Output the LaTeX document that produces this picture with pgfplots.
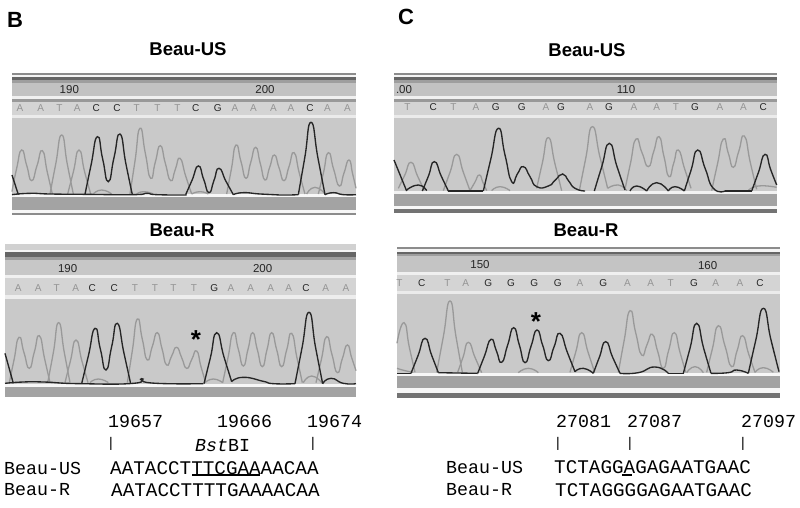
\documentclass[border=0pt]{standalone}
\usepackage{fontspec}
\setmainfont{Liberation Sans}
\newfontfamily\cour{Liberation Mono}
\usepackage{pgfplots}
\pgfplotsset{compat=1.18}
% panels use crop coordinates, 3 units per pixel
\pgfplotsset{
  panel/.style={scale only axis, hide axis, y dir=reverse, anchor=south west,
    enlargelimits=false, clip=true},
  pB/.style={panel, width=#1pt, xmin=0, xmax=#1*3},
  lt/.style={color=black!40, line width=1.3pt, smooth, tension=1, no marks},
  dk/.style={color=black!85, line width=1.35pt, smooth, tension=1, no marks},
  letters/.style={draw=none, no marks, point meta=explicit symbolic, nodes near coords,
    nodes near coords style={anchor=center, inner sep=0pt, font=\fontsize{10}{10}\selectfont, text=#1}},
  nums/.style={draw=none, no marks, point meta=explicit symbolic, nodes near coords,
    nodes near coords style={anchor=center, inner sep=0pt, font=\fontsize{11.5}{11.5}\selectfont, text=black!85}},
}
\newcommand{\band}[5]{\addplot[fill=#5, draw=none, no marks] coordinates {(#1,#3)(#2,#3)(#2,#4)(#1,#4)} -- cycle;}
\begin{document}
\begin{tikzpicture}[x=1pt,y=1pt]
\useasboundingbox (0,0) rectangle (800,508);

% panel B, Beau-US
\begin{axis}[pB=370, height=160pt, at={(0pt,288pt)}, ymin=0, ymax=480]
\band{36}{1068}{38}{44}{black!45}
\band{36}{1068}{44}{52}{black!4}
\band{36}{1068}{52}{60}{black!60}
\band{36}{1068}{60}{68}{black!38}
\band{36}{1068}{68}{108}{black!24}
\band{36}{1068}{108}{118}{black!6}
\band{36}{1068}{118}{125}{black!40}
\band{36}{1068}{125}{165}{black!17}
\band{36}{1068}{165}{175}{black!8}
\band{36}{1068}{175}{403}{black!21}
\band{36}{1068}{403}{412}{black!3}
\band{36}{1068}{412}{450}{black!36}
\band{36}{1068}{450}{458}{black!3}
\band{36}{1068}{458}{464}{black!45}
\addplot[nums] coordinates {(208,90)[190] (795,90)[200]};
\addplot[letters=black!42] coordinates {(60,143)[A] (122,143)[A] (178,143)[T] (232,143)[A] (410,143)[T] (472,143)[T] (532,143)[T] (705,143)[A] (760,143)[A] (820,143)[A] (873,143)[A] (982,143)[A] (1042,143)[A]};
\addplot[letters=black!85] coordinates {(289,143)[C] (351,143)[C] (587,143)[C] (653,143)[G] (930,143)[C]};
% A, T traces
\addplot[lt] coordinates {(36,395)(50,325)(65,270)(80,316)(95,362)(111,317)(127,272)(142,337)(157,402)};
\addplot[lt] coordinates {(150,402)(167,313)(185,225)(202,313)(220,402)};
\addplot[lt] coordinates {(203,402)(220,336)(237,270)(254,336)(272,402)};
\addplot[lt] coordinates {(390,402)(405,303)(420,205)(436,280)(452,355)(466,306)(481,257)(496,310)(512,362)(526,328)(540,295)(557,348)(575,402)};
\addplot[lt] coordinates {(680,402)(694,328)(708,255)(723,305)(738,355)(752,308)(767,262)(781,311)(795,360)(809,322)(823,285)(837,323)(852,362)(867,320)(882,278)(898,340)(915,402)};
\addplot[lt] coordinates {(955,402)(970,340)(985,278)(1001,328)(1018,378)(1032,339)(1047,300)(1058,342)(1068,385)};
\addplot[lt] coordinates {(280,402)(305,390)(335,402)};
\addplot[lt] coordinates {(410,402)(432,395)(460,402)};
\addplot[lt] coordinates {(575,402)(600,395)(625,402)};
\addplot[lt] coordinates {(920,402)(945,382)(975,402)};
% C, G traces
\addplot[dk] coordinates {(36,345)(55,404)};
\addplot[dk] coordinates {(255,403)(273,316)(292,230)(308,297)(325,365)(342,293)(360,222)(378,313)(397,404)};
\addplot[dk] coordinates {(557,404)(576,361)(595,318)(611,358)(627,398)(642,361)(657,325)(678,364)(700,404)};
\addplot[dk] coordinates {(895,404)(914,295)(933,187)(954,295)(975,404)};
\addplot[dk] coordinates {(36,404)(90,400)(150,402)(250,403)(400,404)(440,400)(470,404)(560,405)};
\addplot[dk] coordinates {(700,404)(730,398)(780,402)(840,405)(895,404)};
\addplot[dk] coordinates {(975,404)(1000,398)(1030,404)(1068,404)};
\end{axis}

% panel B, Beau-R
\begin{axis}[pB=370, height=170pt, at={(0pt,98pt)}, ymin=0, ymax=510]
\band{15}{1068}{12}{30}{black!18}
\band{15}{1068}{30}{37}{black!4}
\band{15}{1068}{37}{50}{black!60}
\band{15}{1068}{50}{60}{black!38}
\band{15}{1068}{60}{105}{black!22}
\band{15}{1068}{105}{115}{black!6}
\band{15}{1068}{115}{165}{black!17}
\band{15}{1068}{165}{176}{black!7}
\band{15}{1068}{176}{432}{black!21}
\band{15}{1068}{432}{440}{black!3}
\band{15}{1068}{440}{470}{black!36}
\addplot[nums] coordinates {(203,85)[190] (788,85)[200]};
\addplot[letters=black!42] coordinates {(55,143)[A] (115,143)[A] (170,143)[T] (227,143)[A] (405,143)[T] (465,143)[T] (520,143)[T] (582,143)[T] (693,143)[A] (752,143)[A] (812,143)[A] (866,143)[A] (977,143)[A] (1038,143)[A]};
\addplot[letters=black!85] coordinates {(277,143)[C] (343,143)[C] (643,143)[G] (918,143)[C]};
\addplot[lt] coordinates {(28,428)(42,360)(57,292)(72,338)(88,385)(103,336)(118,287)(134,357)(150,428)};
\addplot[lt] coordinates {(143,428)(160,338)(176,248)(193,338)(210,428)};
\addplot[lt] coordinates {(195,428)(211,364)(228,300)(246,364)(264,428)};
\addplot[lt] coordinates {(382,428)(397,332)(412,237)(427,298)(442,360)(457,319)(472,278)(486,326)(500,375)(515,348)(530,322)(545,353)(560,385)(575,359)(590,333)(603,380)(617,428)};
\addplot[lt] coordinates {(668,428)(684,353)(700,278)(715,328)(730,378)(744,328)(758,278)(772,329)(787,380)(801,329)(815,278)(830,329)(845,380)(860,330)(875,280)(891,354)(907,428)};
\addplot[lt] coordinates {(948,428)(964,359)(980,290)(996,344)(1012,398)(1027,356)(1042,315)(1055,353)(1068,392)};
\addplot[lt] coordinates {(270,428)(295,417)(325,428)};
\addplot[lt] coordinates {(615,428)(640,417)(668,428)};
\addplot[lt] coordinates {(910,428)(935,408)(965,428)};
\addplot[dk] coordinates {(15,340)(40,430)};
\addplot[dk] coordinates {(245,431)(265,348)(285,265)(301,327)(318,390)(335,320)(352,250)(372,340)(392,431)};
\addplot[dk] coordinates {(612,431)(631,354)(650,278)(672,351)(695,425)};
\addplot[dk] coordinates {(885,431)(906,324)(927,217)(947,324)(968,431)};
\addplot[dk] coordinates {(15,430)(70,426)(130,426)(240,431)(400,430)(425,416)(455,429)(610,431)};
\addplot[dk] coordinates {(695,425)(730,412)(790,424)(820,431)(885,431)};
\addplot[dk] coordinates {(968,431)(993,415)(1030,430)(1068,431)};
\end{axis}

% panel C, Beau-US
\begin{axis}[pB=400, height=160pt, at={(385pt,288pt)}, ymin=0, ymax=480]
\band{27}{1175}{38}{44}{black!45}
\band{27}{1175}{44}{52}{black!4}
\band{27}{1175}{52}{60}{black!60}
\band{27}{1175}{60}{68}{black!38}
\band{27}{1175}{68}{108}{black!24}
\band{27}{1175}{108}{118}{black!6}
\band{27}{1175}{118}{125}{black!40}
\band{27}{1175}{125}{165}{black!17}
\band{27}{1175}{165}{175}{black!8}
\band{27}{1175}{175}{394}{black!21}
\band{27}{1175}{394}{403}{black!5}
\band{27}{1175}{403}{437}{black!36}
\band{27}{1175}{437}{447}{black!3}
\band{27}{1175}{447}{458}{black!55}
\addplot[nums] coordinates {(57,88)[.00] (723,90)[110]};
\addplot[letters=black!42] coordinates {(67,142)[T] (205,142)[T] (273,142)[A] (483,142)[A] (615,142)[A] (747,142)[A] (815,142)[A] (873,142)[T] (1005,142)[A] (1075,142)[A]};
\addplot[letters=black!85] coordinates {(145,142)[C] (332,142)[G] (410,142)[G] (528,142)[G] (672,142)[G] (930,142)[G] (1135,142)[C]};
\addplot[lt] coordinates {(40,385)(59,346)(78,307)(98,349)(118,392)};
\addplot[lt] coordinates {(175,392)(195,337)(215,283)(235,337)(255,392)};
\addplot[lt] coordinates {(255,392)(269,368)(283,345)(294,368)(305,392)};
\addplot[lt] coordinates {(455,385)(472,309)(490,233)(510,312)(530,392)};
\addplot[lt] coordinates {(583,392)(602,296)(622,200)(645,292)(668,385)};
\addplot[lt] coordinates {(720,388)(736,312)(753,237)(771,278)(790,320)(806,275)(822,230)(837,290)(852,350)(866,310)(880,270)(899,327)(918,385)};
\addplot[lt] coordinates {(980,392)(997,314)(1015,237)(1030,280)(1045,322)(1061,275)(1078,228)(1096,308)(1115,388)};
\addplot[lt] coordinates {(668,385)(700,375)(725,392)};
\addplot[lt] coordinates {(320,392)(345,380)(375,392)};
\addplot[lt] coordinates {(1090,392)(1120,378)(1175,382)};
\addplot[dk] coordinates {(27,300)(65,393)};
\addplot[dk] coordinates {(65,390)(100,375)(125,392)};
\addplot[dk] coordinates {(112,393)(130,349)(148,305)(169,349)(190,393)};
\addplot[dk] coordinates {(190,393)(295,393)};
\addplot[dk] coordinates {(295,393)(317,299)(340,205)(360,285)(380,365)(397,342)(415,320)(435,350)(455,380)(490,378)(511,360)(533,342)(551,363)(570,385)(600,393)};
\addplot[dk] coordinates {(628,393)(650,321)(673,250)(696,320)(720,390)};
\addplot[dk] coordinates {(735,393)(755,378)(785,393)};
\addplot[dk] coordinates {(785,393)(815,368)(850,393)};
\addplot[dk] coordinates {(850,393)(870,380)(898,393)};
\addplot[dk] coordinates {(898,393)(918,331)(938,270)(961,327)(985,385)(1020,393)};
\addplot[dk] coordinates {(1020,393)(1100,393)};
\addplot[dk] coordinates {(1100,393)(1120,338)(1140,283)(1157,329)(1175,375)};
\end{axis}

% panel C, Beau-R
\begin{axis}[pB=400, height=170pt, at={(385pt,98pt)}, ymin=0, ymax=510]
\band{36}{1185}{22}{28}{black!45}
\band{36}{1185}{28}{36}{black!4}
\band{36}{1185}{36}{42}{black!60}
\band{36}{1185}{42}{48}{black!38}
\band{36}{1185}{48}{95}{black!23}
\band{36}{1185}{95}{105}{black!6}
\band{36}{1185}{105}{153}{black!17}
\band{36}{1185}{153}{163}{black!8}
\band{36}{1185}{163}{400}{black!21}
\band{36}{1185}{400}{408}{black!3}
\band{36}{1185}{408}{445}{black!36}
\band{36}{1185}{445}{458}{black!3}
\band{36}{1185}{458}{475}{black!55}
\addplot[nums] coordinates {(285,75)[150] (968,78)[160]};
\addplot[letters=black!42] coordinates {(43,130)[T] (187,130)[T] (242,130)[A] (585,130)[A] (727,130)[A] (797,130)[A] (857,130)[T] (992,130)[A] (1065,130)[A]};
\addplot[letters=black!85] coordinates {(110,130)[C] (310,130)[G] (378,130)[G] (448,130)[G] (518,130)[G] (655,130)[G] (927,130)[G] (1125,130)[C]};
\addplot[lt] coordinates {(36,310)(57,248)(73,322)(90,397)};
\addplot[lt] coordinates {(155,397)(175,290)(195,183)(213,290)(232,397)};
\addplot[lt] coordinates {(218,397)(234,352)(250,307)(270,352)(290,398)};
\addplot[lt] coordinates {(555,397)(572,337)(590,278)(609,336)(628,394)};
\addplot[lt] coordinates {(700,397)(717,304)(735,212)(752,278)(770,345)(786,314)(802,283)(818,334)(835,385)(851,331)(868,278)(885,337)(902,397)};
\addplot[lt] coordinates {(965,397)(982,327)(1000,257)(1020,318)(1040,380)(1056,333)(1073,287)(1091,342)(1110,397)};
\addplot[lt] coordinates {(400,398)(430,385)(460,398)};
\addplot[lt] coordinates {(905,398)(930,380)(955,398)};
\addplot[lt] coordinates {(1110,397)(1135,383)(1165,397)};
\addplot[lt] coordinates {(36,385)(60,392)(85,397)};
\addplot[dk] coordinates {(78,400)(99,347)(120,295)(140,346)(160,398)};
\addplot[dk] coordinates {(36,400)(78,400)};
\addplot[dk] coordinates {(160,398)(215,399)(278,400)};
\addplot[dk] coordinates {(278,400)(298,349)(318,298)(334,332)(350,367)(368,315)(386,263)(403,315)(420,368)(438,319)(456,270)(473,316)(490,362)(507,321)(525,280)(547,337)(570,395)};
\addplot[dk] coordinates {(570,395)(595,385)(625,400)};
\addplot[dk] coordinates {(625,400)(643,352)(662,305)(683,352)(705,400)};
\addplot[dk] coordinates {(705,400)(760,398)(810,381)(850,400)};
\addplot[dk] coordinates {(850,400)(895,400)};
\addplot[dk] coordinates {(895,400)(915,325)(935,250)(956,325)(978,400)};
\addplot[dk] coordinates {(978,400)(1030,398)(1055,390)(1090,400)};
\addplot[dk] coordinates {(1090,400)(1112,302)(1135,205)(1158,300)(1182,395)};
\end{axis}

% captions and alignments, in pixels of the whole figure
\begin{axis}[panel, width=800pt, height=508pt, at={(0pt,0pt)}, xmin=0, xmax=800, ymin=0, ymax=508, clip=false]
\addplot[draw=none, no marks] coordinates {(0,0)(800,508)};
\addplot[black, line width=2pt, no marks] coordinates {(192,475)(260,475)};
\addplot[black, line width=1.4pt, no marks] coordinates {(622,475)(632,475)};
\node[font=\fontsize{22}{22}\selectfont\bfseries, anchor=west, inner sep=0pt] at (axis cs:7,20) {B};
\node[font=\fontsize{22}{22}\selectfont\bfseries, anchor=west, inner sep=0pt] at (axis cs:398,17) {C};
\begin{scope}[every node/.style={font=\fontsize{18.5}{18.5}\selectfont\bfseries, inner sep=0pt}]
\node at (axis cs:188,49) {Beau-US};
\node at (axis cs:182,230) {Beau-R};
\node at (axis cs:587,50) {Beau-US};
\node at (axis cs:586,230) {Beau-R};
\end{scope}
\node[font=\fontsize{26}{26}\selectfont\bfseries, inner sep=0pt] at (axis cs:196,340) {*};
\node[font=\fontsize{26}{26}\selectfont\bfseries, inner sep=0pt] at (axis cs:536,322) {*};
\begin{scope}[every node/.style={font=\cour\fontsize{18.3}{18.3}\selectfont, anchor=west, inner sep=0pt}]
\node at (axis cs:108,421) {19657};
\node at (axis cs:217,421) {19666};
\node at (axis cs:307,421) {19674};
\node at (axis cs:556,421) {27081};
\node at (axis cs:627,421) {27087};
\node at (axis cs:741,421) {27097};
\node at (axis cs:4,468) {Beau-US};
\node at (axis cs:4,490) {Beau-R};
\node at (axis cs:446,467) {Beau-US};
\node at (axis cs:446,490) {Beau-R};
\node at (axis cs:195,445) {\itshape Bst\upshape BI};
\end{scope}
\begin{scope}[every node/.style={font=\cour\fontsize{19.3}{19.3}\selectfont, anchor=west, inner sep=0pt}]
\node at (axis cs:110,468) {AATACCTTTCGAAAACAA};
\node at (axis cs:111,490) {AATACCTTTTGAAAACAA};
\node at (axis cs:554,467) {TCTAGGAGAGAATGAAC};
\node at (axis cs:555,490) {TCTAGGGGAGAATGAAC};
\end{scope}
\begin{scope}[every node/.style={font=\fontsize{14}{14}\selectfont, inner sep=0pt}]
\node at (axis cs:111,444) {|};
\node at (axis cs:313,444) {|};
\node at (axis cs:558,444) {|};
\node at (axis cs:630,444) {|};
\node at (axis cs:743,444) {|};
\end{scope}
\end{axis}
\end{tikzpicture}
\end{document}
